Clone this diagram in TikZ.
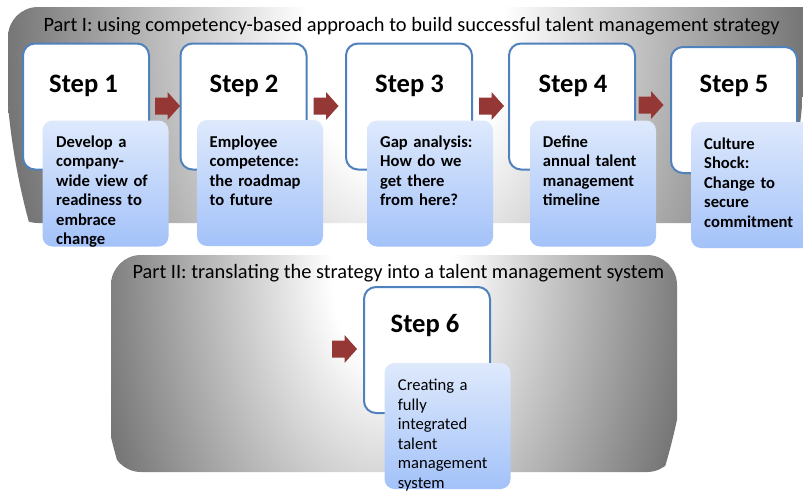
\documentclass[tikz,border=0pt]{standalone}
\usepackage{fontspec}
\setmainfont{Carlito}
\definecolor{stepblue}{RGB}{79,129,189}
\definecolor{arrowred}{RGB}{149,55,53}
\definecolor{boxtop}{RGB}{222,233,252}
\definecolor{boxbot}{RGB}{163,194,249}
\pgfdeclareradialshading{glowone}{\pgfpointorigin}{color(0bp)=(white); color(6.25bp)=(white); color(27bp)=(black!60); color(50bp)=(black!66)}
\pgfdeclareradialshading{glowtwo}{\pgfpointorigin}{color(0bp)=(white); color(5bp)=(white); color(26.5bp)=(black!58); color(50bp)=(black!64)}
\tikzset{
  stepbox/.style={draw=stepblue, line width=2pt, fill=white, rounded corners=12pt,
    minimum width=126pt, minimum height=126pt, inner sep=0pt},
  steplabel/.style={anchor=base, inner sep=0pt, font=\fontsize{26.6}{30}\selectfont\bfseries},
  textbox/.style={rounded corners=10pt, top color=boxtop, bottom color=boxbot,
    minimum width=126pt, minimum height=126pt, inner sep=0pt},
  bodytext/.style={anchor=base west, inner sep=0pt, text width=112pt, align=left,
    font=\fontsize{16.6}{19.5}\selectfont\bfseries},
  bodyplain/.style={anchor=base west, inner sep=0pt, text width=112pt, align=left,
    font=\fontsize{16.6}{19.5}\selectfont},
  parttitle/.style={anchor=base west, inner sep=0pt, font=\fontsize{20.4}{24}\selectfont},
  blockarrow/.pic={\fill[arrowred] (-12.5,-8.5) -- (0,-8.5) -- (0,-14) -- (12.5,0) -- (0,14) -- (0,8.5) -- (-12.5,8.5) -- cycle;}
}
\begin{document}
\begin{tikzpicture}[x=1pt,y=-1pt]
\useasboundingbox (0,0) rectangle (803,491);
\clip (0,0) rectangle (803,491);
\fill[white] (0,0) rectangle (803,491);
% backgrounds
\begin{scope}
  \clip[rounded corners=30pt] (8,7) rectangle (835,223);
  \shade[shading=glowone] (405,40) ellipse[x radius=400, y radius=533];
\end{scope}
\begin{scope}
  \clip[rounded corners=30pt] (111,255) rectangle (677,472);
  \shade[shading=glowtwo] (392,275) ellipse[x radius=300, y radius=462];
\end{scope}
\node[parttitle] (title1) at (43.3,31.7) {Part I: using competency-based approach to build successful talent management strategy};
\node[parttitle] (title2) at (132.3,278.3) {Part II: translating the strategy into a talent management system};
% step boxes
\node[stepbox] (s1) at (86,106.5) {};
\node[stepbox] (s2) at (243.5,106.5) {};
\node[stepbox] (s3) at (409,106.5) {};
\node[stepbox] (s4) at (572,106.5) {};
\node[stepbox] (s5) at (734,110) {};
\node[stepbox] (s6) at (427,350) {};
\node[steplabel] (l1) at (83.5,92) {Step 1};
\node[steplabel] (l2) at (244,92) {Step 2};
\node[steplabel] (l3) at (409.5,92) {Step 3};
\node[steplabel] (l4) at (573,92) {Step 4};
\node[steplabel] (l5) at (734,92) {Step 5};
\node[steplabel] (l6) at (425,332) {Step 6};
% arrows
\pic at (167.5,106) {blockarrow};
\pic at (326,106) {blockarrow};
\pic at (491.5,106) {blockarrow};
\pic at (651,105) {blockarrow};
\pic at (344.5,349) {blockarrow};
% text boxes
\node[textbox] (b1) at (105.5,183.5) {};
\node[textbox] (b2) at (260,183) {};
\node[textbox] (b3) at (430,183.5) {};
\node[textbox] (b4) at (593,183.5) {};
\node[textbox] (b5) at (754,185) {};
\node[textbox] (b6) at (447.5,426) {};
\node[bodytext] (x1) at (56,147.3) {Develop a\\company-\\wide view of\\readiness to\\embrace\\change};
\node[bodytext] (x2) at (209.5,147.3) {Employee\\competence:\\the roadmap\\to future};
\node[bodytext] (x3) at (380,147.3) {Gap analysis:\\How do we\\get there\\from here?};
\node[bodytext] (x4) at (542.7,147.3) {Define\\annual talent\\management\\timeline};
\node[bodytext] (x5) at (704,149) {Culture\\Shock:\\Change to\\secure\\commitment};
\node[bodyplain] (x6) at (397.7,390.7) {Creating a\\fully\\integrated\\talent\\management\\system};
\end{tikzpicture}
\end{document}
